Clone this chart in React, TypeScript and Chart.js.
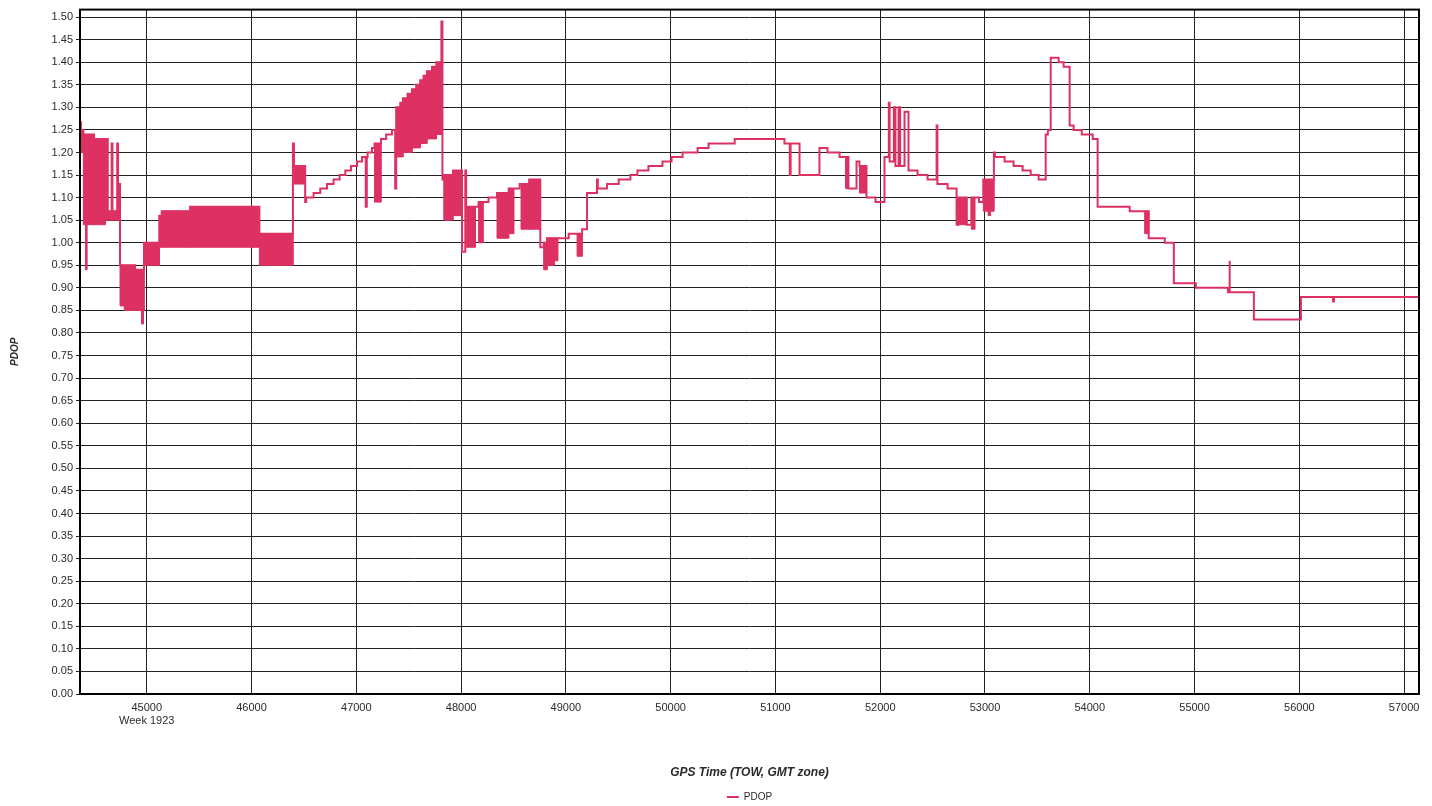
import React, { useEffect, useRef } from 'react';
import { Chart, registerables } from 'chart.js';

Chart.register(...registerables);

// GPS time of week (s) where each PDOP value starts
const TOW = [
  44363, 44372, 44395, 44497, 44603, 44620, 44628, 44665, 44673, 44718, 44726, 44745, 44888, 44974,
  45120, 45143, 45414, 46075, 46395, 46405, 46512, 46522, 46592, 46656, 46720, 46783, 46841, 46895,
  46950, 47007, 47055, 47090, 47100, 47108, 47150, 47174, 47235, 47285, 47340, 47371, 47381, 47420,
  47445, 47489, 47531, 47572, 47610, 47642, 47674, 47722, 47764, 47812, 47822, 47835, 47922, 48009,
  48040, 48048, 48167, 48262, 48343, 48454, 48559, 48650, 48756, 48788, 48820, 49027, 49155, 49202,
  49297, 49305, 49393, 49504, 49616, 49683, 49788, 49922, 50009, 50114, 50257, 50362, 50611, 51086,
  51137, 51145, 51230, 51420, 51497, 51612, 51697, 51774, 51802, 51869, 51955, 52041, 52082, 52090,
  52130, 52145, 52175, 52190, 52232, 52270, 52356, 52452, 52538, 52546, 52643, 52729, 52748, 52825,
  52870, 52943, 52984, 53085, 53095, 53187, 53273, 53359, 53436, 53512, 53579, 53600, 53627, 53703,
  53751, 53808, 53846, 53923, 54028, 54075, 54381, 54562, 54716, 54802, 55012, 55318, 55330, 55338,
  55566, 56015, 56321, 56330, 57142,
];
const PDOP = [
  1.27, 1.25, 1.24, 1.23, 1.07, 1.23, 1.07, 1.22, 1.07, 1.22, 1.13, 0.95, 0.94, 1.00,
  1.06, 1.07, 1.08, 1.02, 1.22, 1.17, 1.09, 1.10, 1.11, 1.12, 1.13, 1.14, 1.15, 1.16,
  1.17, 1.18, 1.19, 1.08, 1.19, 1.20, 1.21, 1.22, 1.23, 1.24, 1.25, 1.12, 1.30, 1.31,
  1.32, 1.33, 1.34, 1.35, 1.36, 1.37, 1.38, 1.39, 1.40, 1.49, 1.14, 1.15, 1.16, 0.98,
  1.16, 1.08, 1.09, 1.10, 1.11, 1.12, 1.13, 1.14, 0.99, 1.00, 1.01, 1.02, 1.03, 1.11,
  1.14, 1.12, 1.13, 1.14, 1.15, 1.16, 1.17, 1.18, 1.19, 1.20, 1.21, 1.22, 1.23, 1.22,
  1.15, 1.22, 1.15, 1.21, 1.20, 1.19, 1.12, 1.18, 1.17, 1.10, 1.09, 1.19, 1.31, 1.18,
  1.30, 1.17, 1.30, 1.17, 1.29, 1.16, 1.15, 1.14, 1.26, 1.13, 1.12, 1.04, 1.10, 1.04,
  1.10, 1.09, 1.14, 1.20, 1.19, 1.18, 1.17, 1.16, 1.15, 1.14, 1.24, 1.25, 1.41, 1.40,
  1.39, 1.26, 1.25, 1.24, 1.23, 1.08, 1.07, 1.01, 1.00, 0.91, 0.90, 0.89, 0.96, 0.89,
  0.83, 0.88, 0.87, 0.88, 0.88,
];

// Rapidly oscillating stretches (drawn as solid bands): start, end, low, high
const BAND_START = [
  44372, 44395, 44415, 44497, 44603, 44726, 44745, 44785, 44888, 44950, 44974, 45120, 45143, 45414,
  46075, 46405, 47174, 47381, 47420, 47445, 47489, 47531, 47572, 47610, 47642, 47674, 47722, 47764,
  47835, 47922, 48048, 48167, 48343, 48454, 48572, 48650, 48788, 48820, 48890, 49107, 51669, 51802,
  52748, 52870, 52984, 53030, 53050, 54524,
];
const BAND_END = [
  44395, 44497, 44428, 44603, 44726, 44745, 44785, 44888, 44974, 44968, 45120, 45143, 45414, 46075,
  46395, 46512, 47235, 47420, 47445, 47489, 47531, 47572, 47610, 47642, 47674, 47722, 47764, 47822,
  47922, 48009, 48135, 48209, 48454, 48502, 48650, 48756, 48820, 48890, 48922, 49155, 51697, 51869,
  52825, 52902, 53030, 53050, 53085, 54562,
];
const BAND_LOW = [
  1.20, 1.04, 0.94, 1.04, 1.05, 1.05, 0.86, 0.85, 0.85, 0.82, 0.95, 0.99, 0.99, 0.99,
  0.95, 1.13, 1.09, 1.19, 1.19, 1.20, 1.20, 1.21, 1.21, 1.22, 1.22, 1.23, 1.23, 1.24,
  1.05, 1.06, 0.99, 1.00, 1.01, 1.02, 1.03, 1.03, 0.94, 0.95, 0.96, 0.97, 1.12, 1.11,
  1.04, 1.03, 1.07, 1.06, 1.07, 1.02,
];
const BAND_HIGH = [
  1.25, 1.24, 1.04, 1.23, 1.07, 1.13, 0.95, 0.95, 0.94, 0.85, 1.00, 1.06, 1.07, 1.08,
  1.02, 1.17, 1.22, 1.30, 1.31, 1.32, 1.33, 1.34, 1.35, 1.36, 1.37, 1.38, 1.39, 1.40,
  1.15, 1.16, 1.08, 1.09, 1.11, 1.12, 1.13, 1.14, 1.00, 1.01, 1.01, 1.02, 1.19, 1.17,
  1.10, 1.10, 1.14, 1.14, 1.14, 1.07,
];

const X_TICKS = [45000, 46000, 47000, 48000, 49000, 50000, 51000, 52000, 53000, 54000, 55000, 56000, 57000];
const Y_TICKS = [
  0, 0.05, 0.1, 0.15, 0.2, 0.25, 0.3, 0.35, 0.4, 0.45, 0.5, 0.55, 0.6, 0.65, 0.7, 0.75,
  0.8, 0.85, 0.9, 0.95, 1.0, 1.05, 1.1, 1.15, 1.2, 1.25, 1.3, 1.35, 1.4, 1.45, 1.5,
];
const WEEK_LABEL = 'Week 1923';
const X_MIN = 44363;
const X_MAX = 57142;
const Y_MAX = 1.5166;

const PINK = '#DE3163';
const GRID = '#222222';
const TEXT = '#2a2a2a';
const FONT = "'Liberation Sans', Arial, sans-serif";

export default function App() {
  const ref = useRef<HTMLCanvasElement>(null);

  useEffect(() => {
    if (!ref.current) return;
    const linePts: { x: number; y: number | null }[] = [];
    for (let i = 0; i < TOW.length; i++) {
      if (i > 0) linePts.push({ x: TOW[i], y: PDOP[i - 1] });
      linePts.push({ x: TOW[i], y: PDOP[i] });
    }
    const bandPts: { x: number; y: number | null }[] = [];
    for (let i = 0; i < BAND_START.length; i++) {
      const s = BAND_START[i], e = BAND_END[i], lo = BAND_LOW[i], hi = BAND_HIGH[i];
      bandPts.push({ x: s, y: lo }, { x: s, y: hi }, { x: e, y: hi }, { x: e, y: lo }, { x: s, y: lo }, { x: e, y: null });
    }

    const framePlugin = {
      id: 'frame',
      afterDraw(chart: any) {
        const { ctx, chartArea: a } = chart;
        ctx.save();
        ctx.strokeStyle = '#000';
        ctx.lineWidth = 2;
        ctx.strokeRect(a.left, a.top, a.right - a.left, a.bottom - a.top);
        ctx.restore();
      },
    };

    const chart = new Chart(ref.current, {
      type: 'line',
      data: {
        datasets: [
          {
            label: 'PDOP',
            data: linePts as any,
            borderColor: PINK,
            backgroundColor: PINK,
            borderWidth: 2,
            pointRadius: 0,
            fill: false,
            tension: 0,
          },
          {
            label: 'band',
            data: bandPts as any,
            borderColor: PINK,
            backgroundColor: PINK,
            borderWidth: 1,
            pointRadius: 0,
            fill: 'shape',
            spanGaps: false,
            tension: 0,
          },
        ],
      },
      options: {
        animation: false,
        responsive: true,
        maintainAspectRatio: false,
        events: [],
        layout: { padding: { top: 9, right: 13, left: 0, bottom: -6 } },
        plugins: {
          tooltip: { enabled: false },
          legend: {
            display: true,
            position: 'bottom',
            fullSize: false,
            labels: {
              boxWidth: 12,
              boxHeight: 2,
              padding: 6,
              color: TEXT,
              font: { size: 10, family: FONT },
              generateLabels: (c: any) =>
                Chart.defaults.plugins.legend.labels
                  .generateLabels(c)
                  .filter((l: any) => l.text === 'PDOP')
                  .map((l: any) => ({ ...l, lineWidth: 0 })),
            },
          },
        },
        scales: {
          x: {
            type: 'linear',
            min: X_MIN,
            max: X_MAX,
            afterBuildTicks: (axis: any) => {
              axis.ticks = X_TICKS.map((v) => ({ value: v }));
            },
            afterFit: (s: any) => {
              s.height = 92;
            },
            grid: { color: GRID, lineWidth: 1, drawTicks: false },
            border: { display: false },
            ticks: {
              padding: 7,
              color: TEXT,
              maxRotation: 0,
              autoSkip: false,
              font: { size: 11, family: FONT },
              callback: (v: any) => (Number(v) === X_TICKS[0] ? [String(v), WEEK_LABEL] : String(v)),
            },
            title: {
              display: true,
              text: 'GPS Time (TOW, GMT zone)',
              color: TEXT,
              font: { size: 12, weight: 'bold', style: 'italic', family: FONT },
              padding: { top: 0, bottom: 6 },
            },
          },
          y: {
            type: 'linear',
            min: 0,
            max: Y_MAX,
            afterBuildTicks: (axis: any) => {
              axis.ticks = Y_TICKS.map((v) => ({ value: v }));
            },
            afterFit: (s: any) => {
              s.width = 80;
            },
            grid: { color: GRID, lineWidth: 1, tickLength: 4 },
            border: { display: false },
            ticks: {
              padding: 3,
              color: TEXT,
              font: { size: 11, family: FONT },
              callback: (v: any) => Number(v).toFixed(2),
            },
            title: {
              display: true,
              text: 'PDOP',
              color: TEXT,
              font: { size: 10, weight: 'bold', style: 'italic', family: FONT },
              padding: { top: 9, bottom: 0 },
            },
          },
        },
      } as any,
      plugins: [framePlugin],
    });
    return () => chart.destroy();
  }, []);

  return (
    <div style={{ position: 'absolute', left: 0, top: 0, width: 1432, height: 806, background: '#fff' }}>
      <canvas ref={ref} />
    </div>
  );
}
